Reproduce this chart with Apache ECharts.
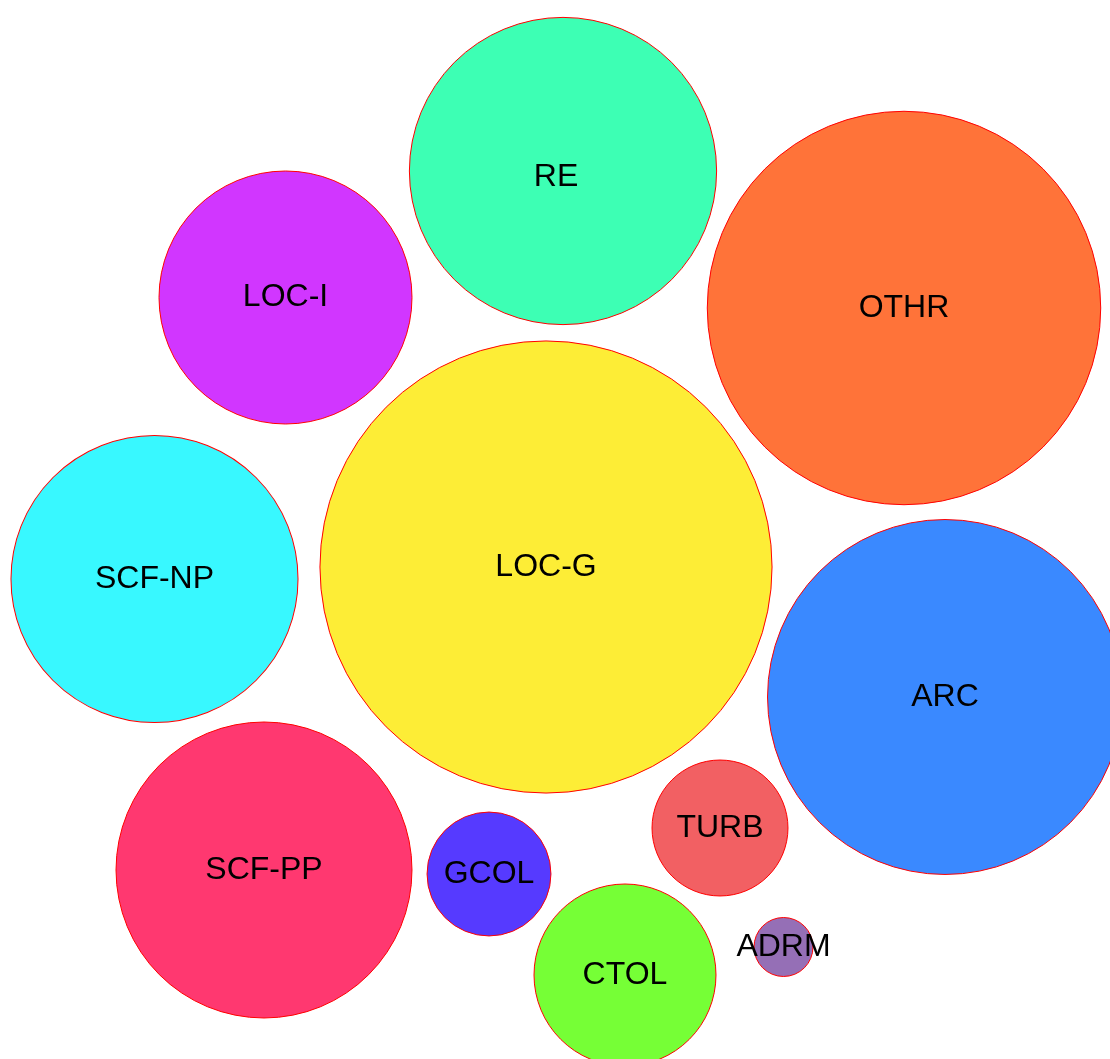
<!DOCTYPE html>
<html>
<head>
<meta charset="utf-8">
<title>bubble</title>
<script src="https://cdn.jsdelivr.net/npm/echarts@6/dist/echarts.min.js"></script>
<style>
html, body { margin: 0; padding: 0; background: #fff; }
#bubble { width: 1110px; height: 1059px; }
</style>
</head>
<body>
<div id="bubble"></div>
<script>
// categories
var names  = ['RE', 'OTHR', 'LOC-I', 'LOC-G', 'SCF-NP', 'ARC', 'SCF-PP', 'GCOL', 'TURB', 'CTOL', 'ADRM'];
// bubble values (area)
var values = [236, 387, 160, 511, 206, 315, 219, 38.4, 46.2, 82.8, 8.7];
// packed positions
var posX   = [563, 904, 285.5, 546, 154.5, 945, 264, 489, 720, 625, 783.5];
var posY   = [171, 308, 297.5, 567, 579, 697, 870, 874, 828, 975, 947];
var colors = ['#3dffb4', '#ff7339', '#d136ff', '#fded36', '#38f8ff', '#3a89ff',
              '#ff3870', '#563aff', '#f26063', '#76ff36', '#956fb6'];

(function(){

var bubble = echarts.init(document.getElementById("bubble"));

var data = [];
for (var i = 0; i < names.length; i++) {
    var item = {
        name: names[i],
        value: [posX[i], posY[i], values[i]],
        itemStyle: { color: colors[i] }
    };
    // RE label sits a bit off centre in the original
    if (names[i] === 'RE') {
        item.label = { offset: [-7, 6] };
    }
    data.push(item);
}

option = {
    animation: false,
    grid: {
        left: 0,
        right: 0,
        top: 0,
        bottom: 0
    },
    xAxis: {
        type: 'value',
        min: 0,
        max: 1110,
        show: false
    },
    yAxis: {
        type: 'value',
        min: 0,
        max: 1059,
        inverse: true,
        show: false
    },
    series: [
        {
            type: 'scatter',
            clip: false,
            data: data,
            symbolSize: function (val) {
                return 20 * Math.sqrt(val[2]);   // area -> diameter
            },
            itemStyle: {
                opacity: 1,
                borderColor: '#ff0000',
                borderWidth: 1
            },
            label: {
                show: true,
                position: 'inside',
                formatter: '{b}',
                color: '#000',
                fontSize: 32,
                fontFamily: 'Liberation Sans, Arial, sans-serif'
            }
        }
    ]
};

bubble.setOption(option);
})();
</script>
</body>
</html>
